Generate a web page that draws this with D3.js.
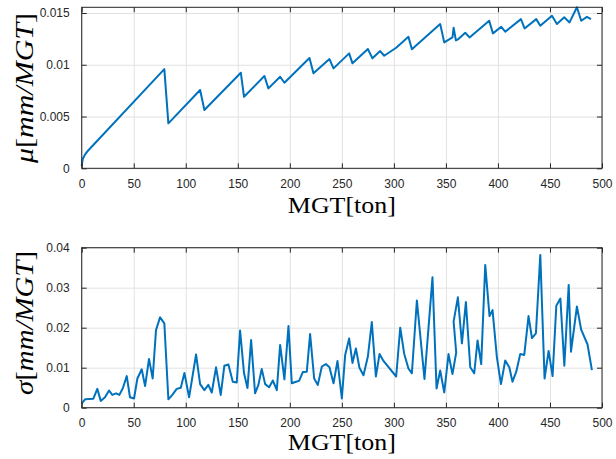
<!DOCTYPE html>
<html><head><meta charset="utf-8">
<script src="https://cdn.jsdelivr.net/npm/d3@7"></script>
<style>
body{margin:0;background:#fff;}
svg{display:block;}
.tick text{font-family:"Liberation Sans",Arial,sans-serif;font-size:12px;fill:#262626;}
</style></head><body>
<svg id="c" width="616" height="459"></svg>
<script>
// ---- data ----
const xTicks = [0,50,100,150,200,250,300,350,400,450,500];
const xTickLabels = ["0","50","100","150","200","250","300","350","400","450","500"];
const muTicks = [0,0.005,0.01,0.015];
const muTickLabels = ["0","0.005","0.01","0.015"];
const sigmaTicks = [0,0.01,0.02,0.03,0.04];
const sigmaTickLabels = ["0","0.01","0.02","0.03","0.04"];

const muX = [0,1,3,6,79.4,83.3,113.8,117.9,152.9,156,175.6,179.4,190.7,194.8,218.9,222.7,238.1,242,257,260.2,275,279.4,286.8,290.7,302.2,314,317.3,344.5,348.4,356.3,357.4,359.6,361.5,368.6,372.7,391.6,395.2,403.2,407,422.1,425.6,436.8,440.7,451.9,456.7,463.7,468.8,475.9,480,485.5,489.4];
const muY = [0.0002,0.0009,0.0013,0.0017,0.00958,0.00434,0.00756,0.00563,0.00923,0.00691,0.00891,0.00772,0.00884,0.00826,0.01065,0.00917,0.01055,0.00965,0.0111,0.01014,0.01152,0.01062,0.01132,0.01087,0.01164,0.0127,0.01149,0.01393,0.01216,0.01264,0.01357,0.01235,0.01245,0.01309,0.01264,0.01425,0.01303,0.01367,0.01319,0.01441,0.01351,0.01441,0.01377,0.01473,0.01393,0.01458,0.01409,0.01555,0.01425,0.01463,0.01441];

const sigmaX = [0,3.2,11.2,15,18.3,22.4,26.3,29.4,33,36.2,39.4,43.3,46.4,50.3,53.5,57.7,60.9,64.7,68.2,71.4,75.3,79.4,83.3,87.1,91.3,95.2,98.7,103.2,109.9,113.8,117.9,121.7,125,129.1,133.6,137.1,141,145.2,149,152.2,156,159.3,162.8,166.6,169.8,173,176.3,180.1,183.7,187.5,190.7,194.8,198.7,201.9,206,208.9,212.5,216.3,219.5,223.4,226.9,230.8,234.6,238.1,242,245.8,250,253.2,257,260.2,263.5,266.9,270.8,275,278.8,282.7,286.2,290,302.2,306.1,309.9,314,317.3,322.1,329.4,337.1,341,344.5,348.4,352.5,356.3,359.9,357.4,361.5,365.4,369.2,373.4,377.2,380.4,383.9,387.8,391.9,394.8,399,402.9,407,410.9,414,417.6,421.4,425.3,429.4,432.7,436.5,440.7,444.8,448.7,452.5,456.1,460,463.8,468,470.2,475.9,480,486.1,490.3];
const sigmaY = [0.0011,0.0021,0.00225,0.0047,0.0017,0.0026,0.0043,0.0032,0.0036,0.0032,0.0048,0.0079,0.0026,0.0023,0.0073,0.0096,0.0054,0.0122,0.0073,0.0194,0.0226,0.0211,0.0021,0.0032,0.0047,0.005,0.0087,0.0026,0.0133,0.0059,0.0044,0.0057,0.0038,0.0101,0.0032,0.0105,0.0108,0.0065,0.0063,0.0193,0.0086,0.0049,0.0169,0.0036,0.0057,0.0097,0.0059,0.0051,0.0068,0.0044,0.0157,0.0071,0.0204,0.0061,0.0065,0.0067,0.0089,0.009,0.0184,0.0073,0.0057,0.0103,0.0109,0.0101,0.0061,0.0117,0.0023,0.0132,0.0173,0.0112,0.0148,0.0100,0.0081,0.0128,0.0214,0.0078,0.0134,0.0117,0.0078,0.0200,0.0135,0.0098,0.0086,0.0268,0.0072,0.0326,0.0048,0.0093,0.0038,0.0134,0.0084,0.0138,0.0215,0.0276,0.0161,0.0264,0.0101,0.0086,0.0168,0.0109,0.0357,0.0229,0.0244,0.0126,0.0059,0.0118,0.0101,0.0065,0.009,0.0134,0.0132,0.0229,0.0174,0.0186,0.0382,0.0073,0.0142,0.0079,0.0255,0.0273,0.0105,0.0307,0.014,0.0253,0.0195,0.0158,0.0094];

// ---- layout ----
const svg = d3.select("#c");
const X0 = 81.7, X1 = 602;
const x = d3.scaleLinear().domain([0,500]).range([X0,X1]);
const panels = [
  {top:7.3, bottom:168.3, dom:[0,0.01555], ticks:muTicks, labels:muTickLabels, xs:muX, ys:muY, sym:"μ", labY:88, labLen:150, xlab:213},
  {top:247.7, bottom:407.7, dom:[0,0.04], ticks:sigmaTicks, labels:sigmaTickLabels, xs:sigmaX, ys:sigmaY, sym:"σ", labY:323, labLen:144, xlab:450}
];
const axisCol = "#262626";

panels.forEach(p => {
  const y = d3.scaleLinear().domain(p.dom).range([p.bottom,p.top]);
  const h = p.bottom - p.top, w = X1 - X0;
  const g = svg.append("g");
  // grid
  g.append("g").attr("transform",`translate(0,${p.bottom})`)
    .call(d3.axisBottom(x).tickValues(xTicks).tickSize(-h).tickFormat(""))
    .call(s=>{s.select(".domain").remove(); s.selectAll("line").attr("stroke","#e2e2e2").attr("stroke-width",1);});
  g.append("g").attr("transform",`translate(${X0},0)`)
    .call(d3.axisLeft(y).tickValues(p.ticks).tickSize(-w).tickFormat(""))
    .call(s=>{s.select(".domain").remove(); s.selectAll("line").attr("stroke","#e2e2e2").attr("stroke-width",1);});
  // data line
  const line = d3.line().x((d,i)=>x(p.xs[i])).y((d,i)=>y(p.ys[i]));
  g.append("path").datum(p.ys).attr("d",line).attr("fill","none")
    .attr("stroke","#0072BD").attr("stroke-width",2).attr("stroke-linejoin","round");
  // axes with inward ticks
  const styleAx = s=>{s.select(".domain").remove(); s.selectAll("line").attr("stroke",axisCol);};
  g.append("g").attr("transform",`translate(0,${p.bottom})`)
    .call(d3.axisBottom(x).tickValues(xTicks).tickSize(-5).tickPadding(11).tickFormat((d,i)=>xTickLabels[i]))
    .call(styleAx);
  g.append("g").attr("transform",`translate(0,${p.top})`)
    .call(d3.axisTop(x).tickValues(xTicks).tickSize(-5).tickFormat("")).call(styleAx);
  g.append("g").attr("transform",`translate(${X0},0)`)
    .call(d3.axisLeft(y).tickValues(p.ticks).tickSize(-5).tickPadding(12).tickFormat((d,i)=>p.labels[i]))
    .call(styleAx);
  g.append("g").attr("transform",`translate(${X1},0)`)
    .call(d3.axisRight(y).tickValues(p.ticks).tickSize(-5).tickFormat("")).call(styleAx);
  g.append("rect").attr("x",X0).attr("y",p.top).attr("width",w).attr("height",h)
    .attr("fill","none").attr("stroke",axisCol).attr("stroke-width",1);
  // x label
  g.append("text").attr("x",(X0+X1)/2).attr("y",p.xlab)
    .attr("text-anchor","middle").attr("font-family","Liberation Serif, serif")
    .attr("font-size",24).attr("fill","#000")
    .attr("textLength",108).attr("lengthAdjust","spacingAndGlyphs")
    .text("MGT[ton]");
  // y label
  const yl = g.append("text").attr("transform",`translate(33,${p.labY}) rotate(-90)`)
    .attr("text-anchor","middle").attr("font-family","Liberation Serif, serif")
    .attr("font-size",25).attr("fill","#000")
    .attr("textLength",p.labLen).attr("lengthAdjust","spacingAndGlyphs");
  yl.append("tspan").attr("font-style","italic").text(p.sym);
  yl.append("tspan").text("[");
  yl.append("tspan").attr("font-style","italic").text("mm/MGT");
  yl.append("tspan").text("]");
});
</script>
</body></html>
